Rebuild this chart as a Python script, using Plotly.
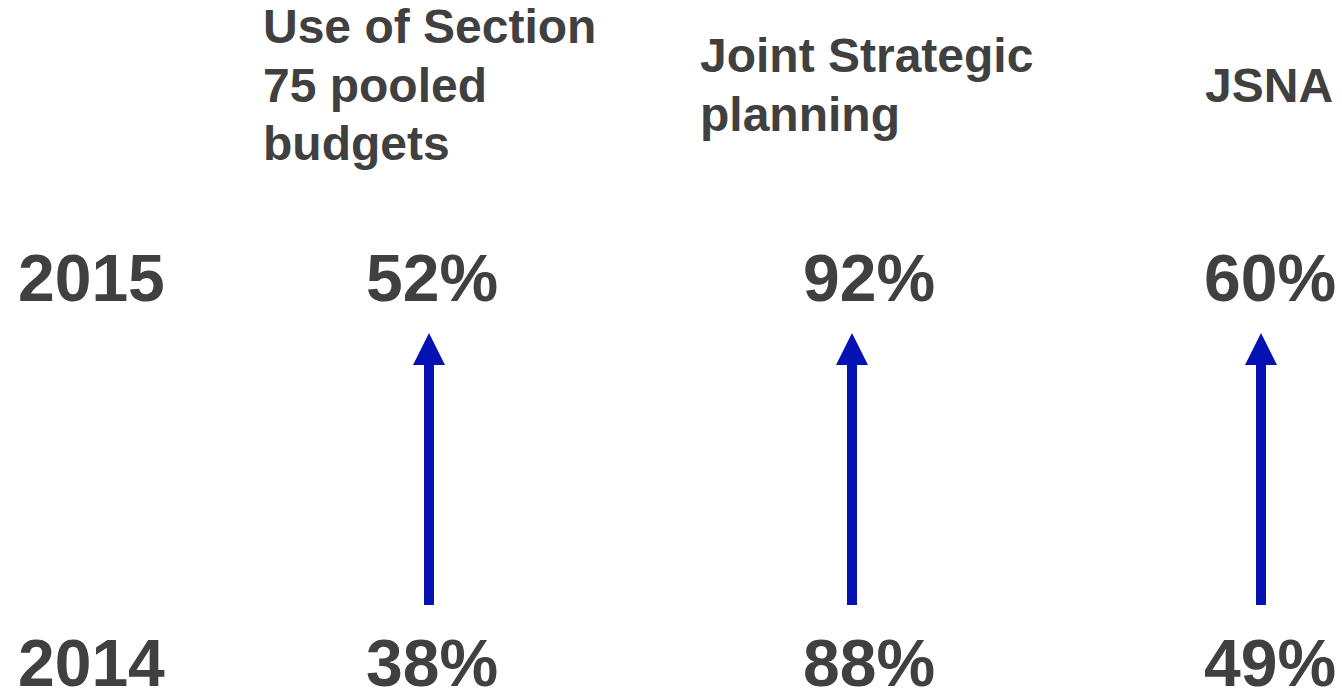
import plotly.graph_objects as go

# Survey results: share of areas using each joint-working arrangement
categories = ["Use of Section<br>75 pooled<br>budgets", "Joint Strategic<br>planning", "JSNA"]
pct_2014 = [38, 88, 49]
pct_2015 = [52, 92, 60]
years = ["2014", "2015"]

# Layout constants (pixel space of a 1342 x 691 canvas)
W, H = 1342, 691
TEXT = "#404040"
ARROW = "#0612B4"
FONT = "Liberation Sans, Arial, sans-serif"

heading_left = [261, 698, 1203]
heading_mid = 85
heading_line_gap = 58.5
heading_size = 48
value_center = [432, 869, 1270]
arrow_x = [429, 852, 1261]
row_mid = {"2015": 278, "2014": 663}
year_left = 16
shaft_bottom, shaft_top = 605, 362
head_base, head_tip, head_half = 365, 333, 16

fig = go.Figure()
fig.add_trace(go.Scatter(x=[0, W], y=[0, H], mode="markers",
                         marker=dict(opacity=0), hoverinfo="skip", showlegend=False))

annotations = []
for yr in years:
    annotations.append(dict(x=year_left, y=row_mid[yr], text=f"<b>{yr}</b>",
                            xanchor="left", yanchor="middle", showarrow=False,
                            font=dict(size=66, color=TEXT, family=FONT)))

shapes = []
for i, cat in enumerate(categories):
    # Headings: one annotation per line so the line spacing can be set exactly,
    # with the whole block centred on heading_mid
    lines = cat.split("<br>")
    n = len(lines)
    for k, line in enumerate(lines):
        annotations.append(dict(x=heading_left[i],
                                y=heading_mid + (k - (n - 1) / 2) * heading_line_gap,
                                text=f"<b>{line}</b>",
                                xanchor="left", yanchor="middle", showarrow=False,
                                font=dict(size=heading_size, color=TEXT, family=FONT)))
    for yr, vals in (("2015", pct_2015), ("2014", pct_2014)):
        annotations.append(dict(x=value_center[i], y=row_mid[yr], text=f"<b>{vals[i]}%</b>",
                                xanchor="center", yanchor="middle", showarrow=False,
                                font=dict(size=66, color=TEXT, family=FONT)))
    ax = arrow_x[i]
    shapes.append(dict(type="line", xref="x", yref="y", x0=ax, x1=ax,
                       y0=shaft_bottom, y1=shaft_top,
                       line=dict(color=ARROW, width=10)))
    shapes.append(dict(type="path", xref="x", yref="y",
                       path=f"M {ax - head_half},{head_base} L {ax + head_half},{head_base} L {ax},{head_tip} Z",
                       fillcolor=ARROW, line=dict(color=ARROW, width=0)))

fig.update_layout(
    width=W, height=H,
    margin=dict(l=0, r=0, t=0, b=0),
    paper_bgcolor="white", plot_bgcolor="white",
    xaxis=dict(range=[0, W], visible=False, fixedrange=True),
    yaxis=dict(range=[H, 0], visible=False, fixedrange=True),
    annotations=annotations, shapes=shapes,
    showlegend=False,
)

fig.write_html("out.html")
